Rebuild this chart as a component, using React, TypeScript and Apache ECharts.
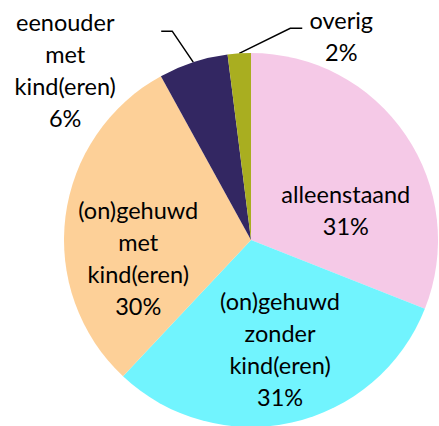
import React, { useEffect, useRef } from "react";
import * as echarts from "echarts";

const categories = [
  "alleenstaand",
  "(on)gehuwd zonder kind(eren)",
  "(on)gehuwd met kind(eren)",
  "eenouder met kind(eren)",
  "overig",
];
const shares = [31, 31, 30, 6, 2];
const colors = ["#F5C9E7", "#71F4FE", "#FDD098", "#332762", "#A9AE20"];
const labelPlacement = ["inside", "inside", "inside", "outside", "outside"];

export default function App() {
  const ref = useRef<HTMLDivElement>(null);
  useEffect(() => {
    if (!ref.current) return;
    const chart = echarts.init(ref.current, null, { renderer: "svg" });
    const cx = 251;
    const cy = 240;
    const R = 187;
    const insideShift: Record<number, [number, number]> = {
      0: [15, 24],
      1: [8, 15],
      2: [-17, 30],
    };
    chart.setOption({
      animation: false,
      backgroundColor: "#ffffff",
      series: [
        {
          type: "pie",
          center: [cx, cy],
          radius: [0, R],
          startAngle: 90,
          clockwise: true,
          avoidLabelOverlap: false,
          itemStyle: { borderWidth: 0 },
          label: {
            fontFamily: "Lato, 'Open Sans', sans-serif",
            fontSize: 23.5,
            lineHeight: 32,
            color: "#000000",
            align: "center",
            formatter: (p: any) => p.name.split(" ").join("\n") + "\n" + p.value + "%",
          },
          labelLine: {
            show: true,
            lineStyle: { color: "#000000", width: 1.5 },
          },
          labelLayout: (params: any) => {
            const i = params.dataIndex;
            if (insideShift[i]) {
              return { dx: insideShift[i][0], dy: insideShift[i][1] };
            }
            const pts = params.labelLinePoints;
            const p0 = pts && pts[0] ? pts[0] : [cx, cy - R];
            if (i === 3) {
              return {
                x: p0[0] - 128,
                y: p0[1] + 8,
                align: "center",
                verticalAlign: "middle",
                labelLinePoints: [p0, [p0[0] - 21, p0[1] - 31], [p0[0] - 32, p0[1] - 31]],
              };
            }
            return {
              x: p0[0] + 102,
              y: p0[1] - 17,
              align: "center",
              verticalAlign: "middle",
              labelLinePoints: [p0, [p0[0] + 51, p0[1] - 25], [p0[0] + 63, p0[1] - 25]],
            };
          },
          data: categories.map((name, i) => ({
            name,
            value: shares[i],
            itemStyle: { color: colors[i] },
            label: { position: labelPlacement[i] },
            labelLine: { show: labelPlacement[i] === "outside" },
          })),
        },
      ],
    });
    return () => chart.dispose();
  }, []);
  return (
    <div
      ref={ref}
      style={{ position: "fixed", left: 0, top: 0, width: 439, height: 426 }}
    />
  );
}
